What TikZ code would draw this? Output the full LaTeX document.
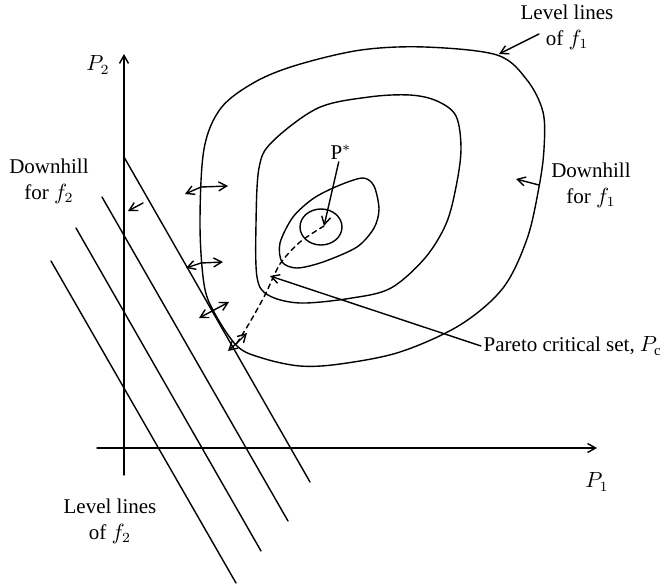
\documentclass[tikz,border=0pt]{standalone}
\usepackage{fontspec}
\setmainfont{Liberation Serif}
\usetikzlibrary{arrows.meta}

\begin{document}
\begin{tikzpicture}[line width=0.7pt, line cap=round, line join=round, x=0.5pt, y=-0.5pt,
  >={Straight Barb[length=4pt,width=4.5pt]},
  lbl/.style={align=center, font=\fontsize{10.5}{13}\selectfont, inner sep=1pt}]
  \useasboundingbox (0,0) rectangle (665,585);
  % axes
  \coordinate (O1) at (97,448);  \coordinate (X1) at (597,448);
  \coordinate (O2) at (124,475); \coordinate (X2) at (124,54);
  \draw[->] (O1) -- (X1);
  \draw[->] (O2) -- (X2);
  % level lines of f2
  \foreach \xa/\ya/\xb/\yb in {124/157/310/482, 102/197/288/521, 76/228/261/551, 51/261/236/583}
    \draw (\xa,\ya) -- (\xb,\yb);
  % level lines of f1
  \draw plot[smooth cycle, tension=0.55] coordinates {(425,47) (497,55) (527,80) (543,112) (544,149)
    (539,187) (527,239) (503,288) (460,325) (400,352) (340,364) (300,366) (262,358) (237,346)
    (214,312) (204,284) (200,224) (204,149) (221,108) (255,82) (297,65) (361,50)};
  \draw plot[smooth cycle, tension=0.55] coordinates {(272,142) (318,108) (369,97) (410,95) (437,101)
    (456,116) (461,149) (456,187) (446,224) (425,258) (391,288) (352,298) (300,303) (268,295)
    (257,277) (256,224) (259,168)};
  \draw plot[smooth cycle, tension=0.5] coordinates {(363,178) (374,186) (379,209) (374,228) (357,247)
    (323,262) (297,268) (282,262) (280,243) (293,217) (314,198) (340,185)};
  \draw (321,227) ellipse [x radius=21, y radius=18];
  % pareto critical set
  \coordinate (pmin) at (324,226);
  \draw[dashed, dash pattern=on 2.5pt off 2pt] plot[smooth] coordinates {(324,226) (300,242) (280,264)
    (265,295) (250,322) (237,343)};
  % downhill directions
  \coordinate (g1) at (201,187); \coordinate (g2) at (201,263);
  \coordinate (g3) at (214,310); \coordinate (g4) at (237,343);
  \foreach \g/\dxa/\dya/\dxb/\dyb in {g1/-16/7/27/-1, g2/-15/5/22/-1, g3/-15/8/15/-8, g4/-9/8/10/-10}
    {\draw[->] (\g) -- ++(\dxa,\dya); \draw[->] (\g) -- ++(\dxb,\dyb);}
  \coordinate (dtwotail) at (143,203); \coordinate (dtwotip) at (128,211);
  \draw[->] (dtwotail) -- (dtwotip);
  \coordinate (donetail) at (539,185); \coordinate (donetip) at (516,179);
  \draw[->] (donetail) -- (donetip);
  % labels
  \node[lbl] (ptwo) at (98,65) {$P_2$};
  \node[lbl] (pone) at (597,482) {$P_1$};
  \node[lbl] (lvltwo) at (110,521) {Level lines\\of $f_2$};
  \node[lbl] (downtwo) at (49,181) {Downhill\\for $f_2$};
  \node[lbl] (lvlone) at (567,27) {Level lines\\of $f_1$};
  \node[lbl] (downone) at (591,185) {Downhill\\for $f_1$};
  \node[lbl] (pstar) at (341,152) {P$^*$};
  \node[lbl, anchor=west] (pareto) at (481,346) {Pareto critical set, $P_\mathrm{c}$};
  \coordinate (lvlonetail) at (539,34); \coordinate (lvlonetip) at (499,54);
  \coordinate (pc) at (270,276);
  \draw[->] (lvlonetail) -- (lvlonetip);
  \draw[->] (pstar) -- (pmin);
  \draw[->] (pareto.west) -- (pc);
\end{tikzpicture}
\end{document}
